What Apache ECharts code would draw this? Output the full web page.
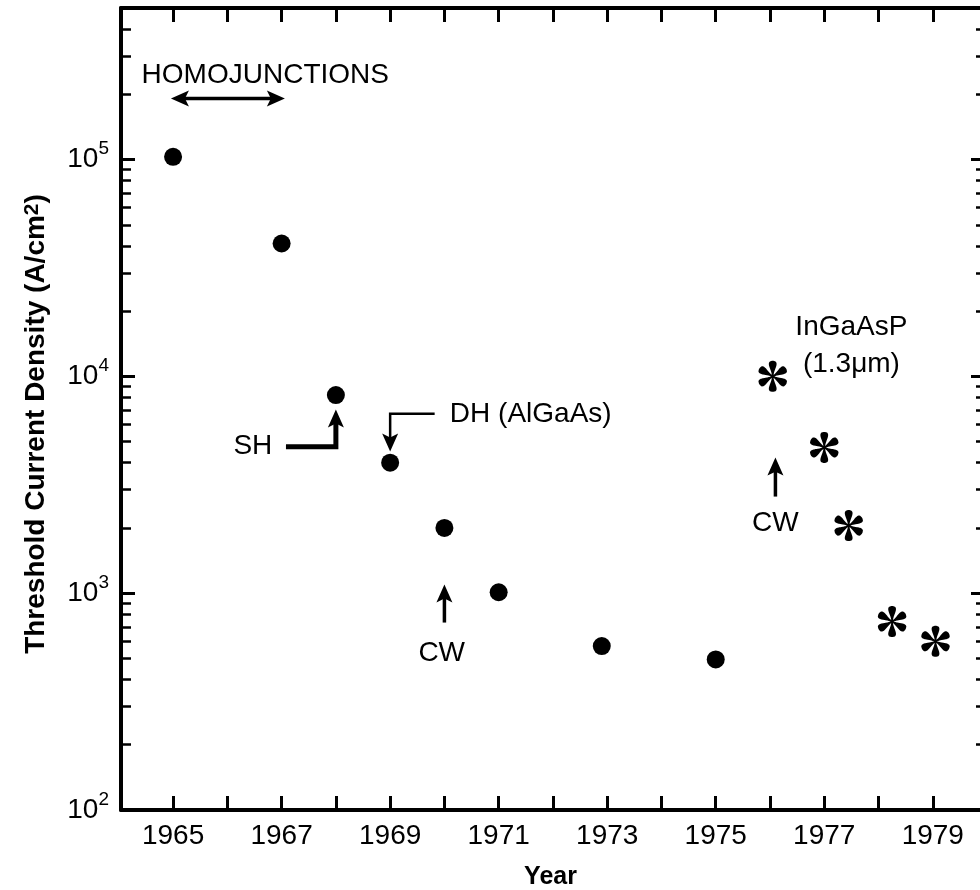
<!DOCTYPE html>
<html>
<head>
<meta charset="utf-8">
<script src="https://cdn.jsdelivr.net/npm/echarts@6/dist/echarts.min.js"></script>
<style>
  html, body { margin: 0; padding: 0; background: #fff; }
  #main { width: 980px; height: 890px; }
</style>
</head>
<body>
<div id="main"></div>
<script>
// AlGaAs points (year, A/cm2)
var dhYears = [1965, 1967, 1968, 1969, 1970, 1971, 1972.9, 1975];
var dhJth = [103000, 41000, 8200, 4000, 2000, 1010, 570, 495];
// InGaAsP 1.3um points
var inYears = [1976.05, 1977, 1977.45, 1978.25, 1979.05];
var inJth = [10000, 4700, 2050, 740, 600];

var yearTicks = [1965, 1966, 1967, 1968, 1969, 1970, 1971, 1972, 1973, 1974, 1975, 1976, 1977, 1978, 1979];
var yearLabels = [1965, 1967, 1969, 1971, 1973, 1975, 1977, 1979];
var majorTicks = [100, 1000, 10000, 100000];
var minorTicks = [200, 300, 400, 500, 600, 700, 800, 900,
    2000, 3000, 4000, 5000, 6000, 7000, 8000, 9000,
    20000, 30000, 40000, 50000, 60000, 70000, 80000, 90000,
    200000, 300000, 400000];

// annotations: [text, year, value, align]
var notes = [
    ['HOMOJUNCTIONS', 1964.42, 245000, 'left'],
    ['SH', 1966.47, 4750, 'center'],
    ['DH (AlGaAs)', 1970.1, 6700, 'left'],
    ['CW', 1969.95, 530, 'center'],
    ['CW', 1976.1, 2100, 'center'],
    ['InGaAsP', 1977.5, 16800, 'center'],
    ['(1.3\u03bcm)', 1977.5, 11400, 'center']
];
// arrows: points in data space, heads at the end (and start if both)
var arrows = [
    { pts: [[1964.96, 191000], [1967.06, 191000]], both: true, w: 3.5 },
    { pts: [[1967.08, 4740], [1968, 4740], [1968, 7040]], both: false, w: 5 },
    { pts: [[1969.82, 6730], [1969, 6730], [1969, 4500]], both: false, w: 2.5 },
    { pts: [[1970, 732], [1970, 1096]], both: false, w: 3.5 },
    { pts: [[1976.1, 2790], [1976.1, 4220]], both: false, w: 3.5 }
];

var FONT = 'Liberation Sans, Arial, Helvetica, sans-serif';

// six-armed asterisk with teardrop arms
function asteriskPath() {
    var d = '';
    for (var k = 0; k < 6; k++) {
        var a = (90 + 60 * k) * Math.PI / 180;
        var dx = Math.cos(a), dy = -Math.sin(a);
        var nx = -dy, ny = dx;
        var left = [], right = [];
        for (var i = 0; i <= 24; i++) {
            var r = i / 24;
            var h = 0.05 + 0.7 * r * r * Math.sqrt(1 - r);
            left.push([50 + 50 * (r * dx + h * nx), 50 + 50 * (r * dy + h * ny)]);
            right.push([50 + 50 * (r * dx - h * nx), 50 + 50 * (r * dy - h * ny)]);
        }
        var ring = left.concat(right.reverse());
        d += 'M' + ring.map(function (p) { return p[0].toFixed(2) + ' ' + p[1].toFixed(2); }).join('L') + 'Z';
    }
    return 'path://' + d;
}

function yAxisBase(pos, ticks, len, width, showLabel) {
    return {
        type: 'log',
        logBase: 10,
        min: 100,
        max: 500000,
        position: pos,
        axisLine: { show: pos === 'left' && showLabel, lineStyle: { color: '#000', width: 4 } },
        axisTick: { show: true, inside: true, length: len, customValues: ticks, lineStyle: { color: '#000', width: width } },
        axisLabel: showLabel ? {
            show: true,
            customValues: majorTicks,
            margin: 12,
            formatter: function (v) {
                return '{b|10}{s|' + Math.round(Math.log10(v)) + '}';
            },
            rich: {
                b: { fontSize: 28, fontFamily: FONT, color: '#000', lineHeight: 40, verticalAlign: 'middle' },
                s: { fontSize: 19, fontFamily: FONT, color: '#000', lineHeight: 20, verticalAlign: 'top' }
            }
        } : { show: false },
        splitLine: { show: false },
        minorTick: { show: false }
    };
}

function initChart() {
    var myChart = echarts.init(document.getElementById('main'), null, { renderer: 'canvas' });

    var option = {
        backgroundColor: '#fff',
        animation: false,
        grid: { left: 121, right: 0, top: 8, bottom: 80, outerBoundsMode: 'none', containLabel: false },
        xAxis: [{
            type: 'value',
            min: 1964.04,
            max: 1979.87,
            position: 'bottom',
            name: 'Year',
            nameLocation: 'middle',
            nameGap: 55,
            nameTextStyle: { fontSize: 25, fontWeight: 'bold', fontFamily: FONT, color: '#000' },
            axisLine: { show: true, lineStyle: { color: '#000', width: 4 } },
            axisTick: { show: true, inside: true, length: 14, customValues: yearTicks, lineStyle: { color: '#000', width: 3 } },
            axisLabel: {
                show: true, customValues: yearLabels, margin: 12, fontSize: 28, fontFamily: FONT, color: '#000',
                formatter: function (v) { return String(v); }
            },
            splitLine: { show: false }
        }, {
            type: 'value',
            min: 1964.04,
            max: 1979.87,
            position: 'top',
            axisLine: { show: true, lineStyle: { color: '#000', width: 4 } },
            axisTick: { show: true, inside: true, length: 14, customValues: yearTicks, lineStyle: { color: '#000', width: 3 } },
            axisLabel: { show: false },
            splitLine: { show: false }
        }],
        yAxis: [
            yAxisBase('left', majorTicks, 14, 3, true),
            yAxisBase('left', minorTicks, 10, 2.5, false),
            yAxisBase('right', majorTicks, 9, 3, false),
            yAxisBase('right', minorTicks, 4, 2.5, false)
        ],
        series: [{
            name: 'AlGaAs',
            type: 'scatter',
            xAxisIndex: 0,
            yAxisIndex: 0,
            symbol: 'circle',
            symbolSize: 18,
            itemStyle: { color: '#000', opacity: 1 },
            data: dhYears.map(function (x, i) { return [x, dhJth[i]]; })
        }, {
            name: 'InGaAsP',
            type: 'scatter',
            xAxisIndex: 0,
            yAxisIndex: 0,
            symbol: asteriskPath(),
            symbolKeepAspect: true,
            symbolSize: 31,
            itemStyle: { color: '#000', opacity: 1 },
            data: inYears.map(function (x, i) { return [x, inJth[i]]; })
        }]
    };

    myChart.setOption(option);
    drawNotes(myChart);
}

// arrow head polygon at tip, pointing away from 'from'
function headAt(tip, from, len, half) {
    var vx = tip[0] - from[0], vy = tip[1] - from[1];
    var n = Math.sqrt(vx * vx + vy * vy);
    vx /= n; vy /= n;
    var bx = tip[0] - vx * len, by = tip[1] - vy * len;
    return {
        type: 'polygon',
        z: 100,
        shape: { points: [tip, [bx - vy * half, by + vx * half], [tip[0] - vx * len * 0.78, tip[1] - vy * len * 0.78], [bx + vy * half, by - vx * half]] },
        style: { fill: '#000' }
    };
}

function drawNotes(chart) {
    var px = function (p) { return chart.convertToPixel({ seriesIndex: 0 }, p); };
    var g = [];
    notes.forEach(function (n) {
        var p = px([n[1], n[2]]);
        g.push({
            type: 'text', z: 100, x: p[0], y: p[1],
            style: { text: n[0], font: '28px ' + FONT, fill: '#000', align: n[3], verticalAlign: 'middle' }
        });
    });
    arrows.forEach(function (a) {
        var pts = a.pts.map(px);
        var last = pts[pts.length - 1], prev = pts[pts.length - 2];
        var line = pts.slice();
        // pull the line ends back under the heads
        var shorten = function (tip, from) {
            var vx = tip[0] - from[0], vy = tip[1] - from[1];
            var n = Math.sqrt(vx * vx + vy * vy);
            return [tip[0] - vx / n * 12, tip[1] - vy / n * 12];
        };
        line[line.length - 1] = shorten(last, prev);
        if (a.both) line[0] = shorten(pts[0], pts[1]);
        g.push({
            type: 'polyline', z: 100,
            shape: { points: line },
            style: { stroke: '#000', lineWidth: a.w, fill: null, lineJoin: 'miter' }
        });
        g.push(headAt(last, prev, 18, 8));
        if (a.both) g.push(headAt(pts[0], pts[1], 18, 8));
    });
    // rotated y-axis title
    var top = px([1964.04, 500000]), bottom = px([1964.04, 100]);
    g.push({
        type: 'text', z: 100, x: 36, y: (top[1] + bottom[1]) / 2 + 15, rotation: Math.PI / 2,
        style: {
            text: 'Threshold Current Density (A/cm{s|2})',
            font: 'bold 28px ' + FONT, fill: '#000', align: 'center', verticalAlign: 'middle',
            rich: { s: { fontSize: 21, fontWeight: 'bold', fontFamily: FONT, fill: '#000', verticalAlign: 'top', lineHeight: 16 } }
        }
    });
    chart.setOption({ graphic: g });
}

initChart();
</script>
</body>
</html>
